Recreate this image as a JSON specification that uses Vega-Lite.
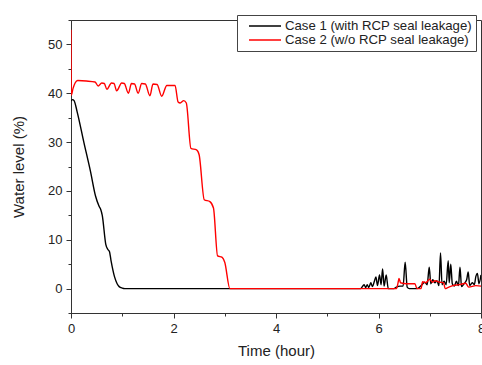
{
  "$schema": "https://vega.github.io/schema/vega-lite/v6.json",
  "width": 410,
  "height": 293,
  "autosize": {"type": "none"},
  "padding": {"left": 71, "top": 20, "right": 1, "bottom": 52},
  "background": "white",
  "config": {
    "font": "Liberation Sans",
    "view": {"stroke": "#333", "strokeWidth": 1},
    "axis": {
      "grid": false,
      "domainColor": "#333",
      "tickColor": "#333",
      "labelColor": "#222",
      "titleColor": "#222",
      "labelFont": "Liberation Sans",
      "titleFont": "Liberation Sans",
      "labelFontSize": 13,
      "titleFontSize": 15,
      "titleFontWeight": "normal"
    }
  },
  "data": {
    "values": [
      {"t": 0, "v": 38.4, "c": "Case 1 (with RCP seal leakage)"},
      {"t": 0.03, "v": 38.7, "c": "Case 1 (with RCP seal leakage)"},
      {"t": 0.06, "v": 38.5, "c": "Case 1 (with RCP seal leakage)"},
      {"t": 0.12, "v": 36.2, "c": "Case 1 (with RCP seal leakage)"},
      {"t": 0.25, "v": 30.0, "c": "Case 1 (with RCP seal leakage)"},
      {"t": 0.38, "v": 24.0, "c": "Case 1 (with RCP seal leakage)"},
      {"t": 0.48, "v": 18.9, "c": "Case 1 (with RCP seal leakage)"},
      {"t": 0.55, "v": 16.8, "c": "Case 1 (with RCP seal leakage)"},
      {"t": 0.58, "v": 16.2, "c": "Case 1 (with RCP seal leakage)"},
      {"t": 0.61, "v": 15.0, "c": "Case 1 (with RCP seal leakage)"},
      {"t": 0.68, "v": 9.0, "c": "Case 1 (with RCP seal leakage)"},
      {"t": 0.72, "v": 8.0, "c": "Case 1 (with RCP seal leakage)"},
      {"t": 0.75, "v": 7.6, "c": "Case 1 (with RCP seal leakage)"},
      {"t": 0.78, "v": 5.8, "c": "Case 1 (with RCP seal leakage)"},
      {"t": 0.85, "v": 2.4, "c": "Case 1 (with RCP seal leakage)"},
      {"t": 0.9, "v": 1.0, "c": "Case 1 (with RCP seal leakage)"},
      {"t": 0.94, "v": 0.4, "c": "Case 1 (with RCP seal leakage)"},
      {"t": 1.0, "v": 0.1, "c": "Case 1 (with RCP seal leakage)"},
      {"t": 1.05, "v": 0, "c": "Case 1 (with RCP seal leakage)"},
      {"t": 3.0, "v": 0, "c": "Case 1 (with RCP seal leakage)"},
      {"t": 5.65, "v": 0, "c": "Case 1 (with RCP seal leakage)"},
      {"t": 5.72, "v": 0.8, "c": "Case 1 (with RCP seal leakage)"},
      {"t": 5.75, "v": 0.2, "c": "Case 1 (with RCP seal leakage)"},
      {"t": 5.78, "v": 0.8, "c": "Case 1 (with RCP seal leakage)"},
      {"t": 5.81, "v": 0.2, "c": "Case 1 (with RCP seal leakage)"},
      {"t": 5.85, "v": 1.2, "c": "Case 1 (with RCP seal leakage)"},
      {"t": 5.88, "v": 0.4, "c": "Case 1 (with RCP seal leakage)"},
      {"t": 5.92, "v": 1.5, "c": "Case 1 (with RCP seal leakage)"},
      {"t": 5.95, "v": 2.4, "c": "Case 1 (with RCP seal leakage)"},
      {"t": 5.98, "v": 0.6, "c": "Case 1 (with RCP seal leakage)"},
      {"t": 6.02, "v": 2.8, "c": "Case 1 (with RCP seal leakage)"},
      {"t": 6.05, "v": 0.8, "c": "Case 1 (with RCP seal leakage)"},
      {"t": 6.08, "v": 4.0, "c": "Case 1 (with RCP seal leakage)"},
      {"t": 6.11, "v": 0.5, "c": "Case 1 (with RCP seal leakage)"},
      {"t": 6.15, "v": 2.8, "c": "Case 1 (with RCP seal leakage)"},
      {"t": 6.19, "v": 0, "c": "Case 1 (with RCP seal leakage)"},
      {"t": 6.3, "v": 0, "c": "Case 1 (with RCP seal leakage)"},
      {"t": 6.35, "v": 0.3, "c": "Case 1 (with RCP seal leakage)"},
      {"t": 6.42, "v": 0.5, "c": "Case 1 (with RCP seal leakage)"},
      {"t": 6.48, "v": 0.5, "c": "Case 1 (with RCP seal leakage)"},
      {"t": 6.52, "v": 5.4, "c": "Case 1 (with RCP seal leakage)"},
      {"t": 6.56, "v": 0.3, "c": "Case 1 (with RCP seal leakage)"},
      {"t": 6.6, "v": 0, "c": "Case 1 (with RCP seal leakage)"},
      {"t": 6.75, "v": 0, "c": "Case 1 (with RCP seal leakage)"},
      {"t": 6.8, "v": 0.3, "c": "Case 1 (with RCP seal leakage)"},
      {"t": 6.85, "v": 0.8, "c": "Case 1 (with RCP seal leakage)"},
      {"t": 6.9, "v": 1.3, "c": "Case 1 (with RCP seal leakage)"},
      {"t": 6.95, "v": 0.8, "c": "Case 1 (with RCP seal leakage)"},
      {"t": 6.99, "v": 4.4, "c": "Case 1 (with RCP seal leakage)"},
      {"t": 7.02, "v": 1.0, "c": "Case 1 (with RCP seal leakage)"},
      {"t": 7.06, "v": 1.8, "c": "Case 1 (with RCP seal leakage)"},
      {"t": 7.1, "v": 1.2, "c": "Case 1 (with RCP seal leakage)"},
      {"t": 7.14, "v": 1.6, "c": "Case 1 (with RCP seal leakage)"},
      {"t": 7.18, "v": 0.6, "c": "Case 1 (with RCP seal leakage)"},
      {"t": 7.21, "v": 7.3, "c": "Case 1 (with RCP seal leakage)"},
      {"t": 7.24, "v": 0.8, "c": "Case 1 (with RCP seal leakage)"},
      {"t": 7.28, "v": 1.5, "c": "Case 1 (with RCP seal leakage)"},
      {"t": 7.32, "v": 0.8, "c": "Case 1 (with RCP seal leakage)"},
      {"t": 7.36, "v": 5.7, "c": "Case 1 (with RCP seal leakage)"},
      {"t": 7.38, "v": 1.2, "c": "Case 1 (with RCP seal leakage)"},
      {"t": 7.41, "v": 5.0, "c": "Case 1 (with RCP seal leakage)"},
      {"t": 7.44, "v": 1.0, "c": "Case 1 (with RCP seal leakage)"},
      {"t": 7.48, "v": 0.5, "c": "Case 1 (with RCP seal leakage)"},
      {"t": 7.52, "v": 1.5, "c": "Case 1 (with RCP seal leakage)"},
      {"t": 7.56, "v": 0.6, "c": "Case 1 (with RCP seal leakage)"},
      {"t": 7.59, "v": 4.4, "c": "Case 1 (with RCP seal leakage)"},
      {"t": 7.62, "v": 0.4, "c": "Case 1 (with RCP seal leakage)"},
      {"t": 7.67, "v": 1.0, "c": "Case 1 (with RCP seal leakage)"},
      {"t": 7.72, "v": 1.8, "c": "Case 1 (with RCP seal leakage)"},
      {"t": 7.75, "v": 3.4, "c": "Case 1 (with RCP seal leakage)"},
      {"t": 7.78, "v": 0.6, "c": "Case 1 (with RCP seal leakage)"},
      {"t": 7.83, "v": 1.2, "c": "Case 1 (with RCP seal leakage)"},
      {"t": 7.87, "v": 0.8, "c": "Case 1 (with RCP seal leakage)"},
      {"t": 7.9, "v": 2.5, "c": "Case 1 (with RCP seal leakage)"},
      {"t": 7.93, "v": 3.1, "c": "Case 1 (with RCP seal leakage)"},
      {"t": 7.96, "v": 1.0, "c": "Case 1 (with RCP seal leakage)"},
      {"t": 8.0, "v": 2.8, "c": "Case 1 (with RCP seal leakage)"},

      {"t": 0, "v": 53, "c": "Case 2 (w/o RCP seal leakage)"},
      {"t": 0.005, "v": 39.6, "c": "Case 2 (w/o RCP seal leakage)"},
      {"t": 0.04, "v": 41.0, "c": "Case 2 (w/o RCP seal leakage)"},
      {"t": 0.08, "v": 42.1, "c": "Case 2 (w/o RCP seal leakage)"},
      {"t": 0.13, "v": 42.6, "c": "Case 2 (w/o RCP seal leakage)"},
      {"t": 0.3, "v": 42.5, "c": "Case 2 (w/o RCP seal leakage)"},
      {"t": 0.47, "v": 42.3, "c": "Case 2 (w/o RCP seal leakage)"},
      {"t": 0.53, "v": 41.5, "c": "Case 2 (w/o RCP seal leakage)"},
      {"t": 0.6, "v": 42.1, "c": "Case 2 (w/o RCP seal leakage)"},
      {"t": 0.65, "v": 42.0, "c": "Case 2 (w/o RCP seal leakage)"},
      {"t": 0.7, "v": 40.8, "c": "Case 2 (w/o RCP seal leakage)"},
      {"t": 0.79, "v": 42.1, "c": "Case 2 (w/o RCP seal leakage)"},
      {"t": 0.84, "v": 42.0, "c": "Case 2 (w/o RCP seal leakage)"},
      {"t": 0.89, "v": 40.5, "c": "Case 2 (w/o RCP seal leakage)"},
      {"t": 0.99, "v": 42.1, "c": "Case 2 (w/o RCP seal leakage)"},
      {"t": 1.04, "v": 42.0, "c": "Case 2 (w/o RCP seal leakage)"},
      {"t": 1.12, "v": 40.0, "c": "Case 2 (w/o RCP seal leakage)"},
      {"t": 1.18, "v": 42.0, "c": "Case 2 (w/o RCP seal leakage)"},
      {"t": 1.24, "v": 41.9, "c": "Case 2 (w/o RCP seal leakage)"},
      {"t": 1.31, "v": 40.0, "c": "Case 2 (w/o RCP seal leakage)"},
      {"t": 1.38, "v": 42.0, "c": "Case 2 (w/o RCP seal leakage)"},
      {"t": 1.45, "v": 41.9, "c": "Case 2 (w/o RCP seal leakage)"},
      {"t": 1.54, "v": 39.5, "c": "Case 2 (w/o RCP seal leakage)"},
      {"t": 1.6, "v": 41.9, "c": "Case 2 (w/o RCP seal leakage)"},
      {"t": 1.68, "v": 41.8, "c": "Case 2 (w/o RCP seal leakage)"},
      {"t": 1.77, "v": 39.4, "c": "Case 2 (w/o RCP seal leakage)"},
      {"t": 1.87, "v": 41.6, "c": "Case 2 (w/o RCP seal leakage)"},
      {"t": 2.03, "v": 41.6, "c": "Case 2 (w/o RCP seal leakage)"},
      {"t": 2.09, "v": 38.2, "c": "Case 2 (w/o RCP seal leakage)"},
      {"t": 2.13, "v": 38.0, "c": "Case 2 (w/o RCP seal leakage)"},
      {"t": 2.2, "v": 38.5, "c": "Case 2 (w/o RCP seal leakage)"},
      {"t": 2.25, "v": 38.0, "c": "Case 2 (w/o RCP seal leakage)"},
      {"t": 2.34, "v": 28.7, "c": "Case 2 (w/o RCP seal leakage)"},
      {"t": 2.45, "v": 28.4, "c": "Case 2 (w/o RCP seal leakage)"},
      {"t": 2.5, "v": 27.4, "c": "Case 2 (w/o RCP seal leakage)"},
      {"t": 2.6, "v": 18.2, "c": "Case 2 (w/o RCP seal leakage)"},
      {"t": 2.71, "v": 17.8, "c": "Case 2 (w/o RCP seal leakage)"},
      {"t": 2.78, "v": 16.5, "c": "Case 2 (w/o RCP seal leakage)"},
      {"t": 2.86, "v": 6.7, "c": "Case 2 (w/o RCP seal leakage)"},
      {"t": 2.95, "v": 6.4, "c": "Case 2 (w/o RCP seal leakage)"},
      {"t": 3.0, "v": 5.4, "c": "Case 2 (w/o RCP seal leakage)"},
      {"t": 3.1, "v": 0, "c": "Case 2 (w/o RCP seal leakage)"},
      {"t": 5.0, "v": 0, "c": "Case 2 (w/o RCP seal leakage)"},
      {"t": 6.35, "v": 0, "c": "Case 2 (w/o RCP seal leakage)"},
      {"t": 6.38, "v": 1.1, "c": "Case 2 (w/o RCP seal leakage)"},
      {"t": 6.4, "v": 2.1, "c": "Case 2 (w/o RCP seal leakage)"},
      {"t": 6.43, "v": 1.2, "c": "Case 2 (w/o RCP seal leakage)"},
      {"t": 6.55, "v": 1.0, "c": "Case 2 (w/o RCP seal leakage)"},
      {"t": 6.71, "v": 1.0, "c": "Case 2 (w/o RCP seal leakage)"},
      {"t": 6.75, "v": 0, "c": "Case 2 (w/o RCP seal leakage)"},
      {"t": 6.83, "v": 0, "c": "Case 2 (w/o RCP seal leakage)"},
      {"t": 6.86, "v": 1.4, "c": "Case 2 (w/o RCP seal leakage)"},
      {"t": 6.92, "v": 1.2, "c": "Case 2 (w/o RCP seal leakage)"},
      {"t": 7.0, "v": 1.9, "c": "Case 2 (w/o RCP seal leakage)"},
      {"t": 7.05, "v": 1.3, "c": "Case 2 (w/o RCP seal leakage)"},
      {"t": 7.1, "v": 1.6, "c": "Case 2 (w/o RCP seal leakage)"},
      {"t": 7.2, "v": 1.3, "c": "Case 2 (w/o RCP seal leakage)"},
      {"t": 7.27, "v": 1.2, "c": "Case 2 (w/o RCP seal leakage)"},
      {"t": 7.3, "v": 0, "c": "Case 2 (w/o RCP seal leakage)"},
      {"t": 7.35, "v": 0.2, "c": "Case 2 (w/o RCP seal leakage)"},
      {"t": 7.45, "v": 0.6, "c": "Case 2 (w/o RCP seal leakage)"},
      {"t": 7.58, "v": 0.8, "c": "Case 2 (w/o RCP seal leakage)"},
      {"t": 7.7, "v": 1.1, "c": "Case 2 (w/o RCP seal leakage)"},
      {"t": 7.76, "v": 0.3, "c": "Case 2 (w/o RCP seal leakage)"},
      {"t": 7.9, "v": 0.6, "c": "Case 2 (w/o RCP seal leakage)"},
      {"t": 8.0, "v": 0.5, "c": "Case 2 (w/o RCP seal leakage)"}
    ]
  },
  "mark": {"type": "line", "strokeWidth": 1.4, "interpolate": "monotone", "clip": true},
  "encoding": {
    "x": {
      "field": "t", "type": "quantitative",
      "scale": {"domain": [0, 8], "nice": false, "zero": false},
      "axis": {
        "title": "Time (hour)",
        "values": [0, 1, 2, 3, 4, 5, 6, 7, 8],
        "labelExpr": "datum.value % 2 === 0 ? datum.label : ''",
        "tickSize": {"condition": {"test": "datum.value % 2 === 0", "value": 5}, "value": 3},
        "labelPadding": 4,
        "titlePadding": 8,
        "labelFlush": false
      }
    },
    "y": {
      "field": "v", "type": "quantitative",
      "scale": {"domain": [-5, 55], "nice": false, "zero": false},
      "axis": {
        "title": "Water level (%)",
        "values": [-5, 0, 5, 10, 15, 20, 25, 30, 35, 40, 45, 50, 55],
        "labelExpr": "datum.value % 10 === 0 && datum.value >= 0 && datum.value <= 50 ? datum.label : ''",
        "tickSize": {"condition": {"test": "datum.value % 10 === 0", "value": 5}, "value": 3},
        "labelPadding": 4,
        "titlePadding": 21,
        "labelFlush": false
      }
    },
    "color": {
      "field": "c", "type": "nominal",
      "scale": {"domain": ["Case 1 (with RCP seal leakage)", "Case 2 (w/o RCP seal leakage)"], "range": ["#000000", "#ff0000"]},
      "legend": {
        "title": null,
        "orient": "none",
        "legendX": 166,
        "legendY": -5,
        "symbolType": "M0.17,0H5.5",
        "symbolSize": 144,
        "symbolStrokeWidth": 1.5,
        "labelFontSize": 13.2,
        "labelFont": "Liberation Sans",
        "labelColor": "#222",
        "labelLimit": 0,
        "labelOffset": 30,
        "rowPadding": 0,
        "padding": 4,
        "strokeColor": "#444",
        "fillColor": "white"
      }
    }
  }
}
